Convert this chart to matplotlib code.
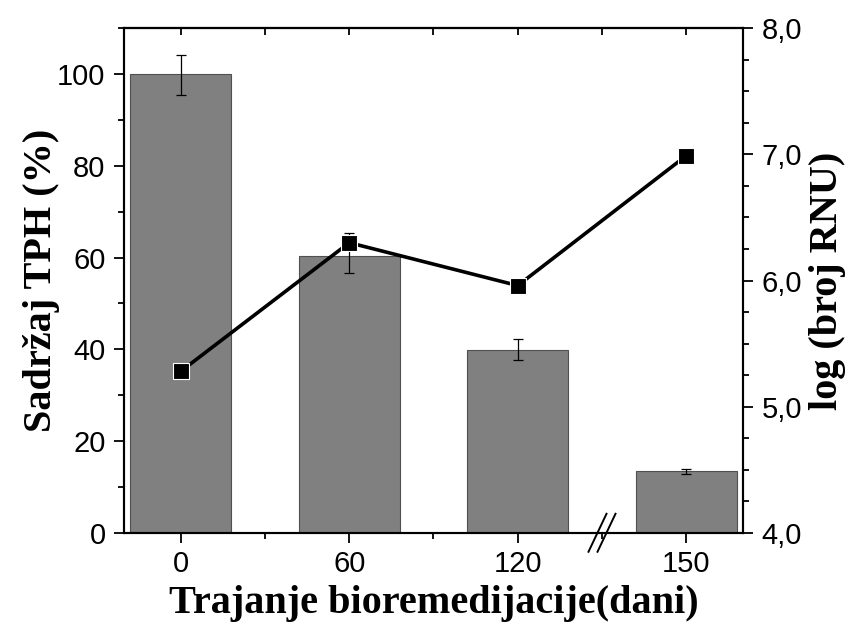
import matplotlib.pyplot as plt
from matplotlib.lines import Line2D
from matplotlib.ticker import FuncFormatter, MultipleLocator

days = ["0", "60", "120", "150"]
tph = [100.0, 60.4, 39.8, 13.4]
tph_err_low = [4.6, 3.7, 2.2, 0.6]
tph_err_high = [4.2, 5.0, 2.4, 0.6]
log_cfu = [5.28, 6.30, 5.96, 6.99]

plt.rcParams["font.family"] = ["Liberation Sans", "DejaVu Sans"]
serif_bold = {"family": ["Liberation Serif", "DejaVu Serif"], "weight": "bold"}

fig = plt.figure(figsize=(8.49, 6.29), dpi=100)
ax = fig.add_axes([0.1464, 0.1530, 0.7284, 0.8020])

pos = list(range(len(days)))
ax.bar(pos, tph, width=0.6, color="#808080", edgecolor="#505050", linewidth=0.8, zorder=2)
ax.errorbar(pos, tph, yerr=[tph_err_low, tph_err_high], fmt="none", ecolor="black",
            elinewidth=0.9, capsize=3.5, capthick=0.9, zorder=3)

ax.set_xlim(-0.335, 3.335)
ax.set_ylim(0, 110)
ax.set_xticks(pos)
ax.set_xticklabels(days)
ax.xaxis.set_minor_locator(MultipleLocator(0.5))
ax.yaxis.set_major_locator(MultipleLocator(20))
ax.yaxis.set_minor_locator(MultipleLocator(10))
ax.tick_params(axis="both", which="major", direction="out", length=7.5, width=1.3,
               labelsize=21, pad=6)
ax.tick_params(axis="x", which="major", pad=5)
ax.tick_params(axis="both", which="minor", direction="out", length=4.5, width=1.3)
ax.set_xlabel("Trajanje bioremedijacije(dani)", fontdict=serif_bold, fontsize=29)
ax.xaxis.set_label_coords(0.5, -0.103)
ax.set_ylabel("Sadržaj TPH (%)", fontdict=serif_bold, fontsize=29)
ax.yaxis.set_label_coords(-0.104, 0.5)

# inward ticks along the top edge
top = ax.secondary_xaxis("top")
top.set_xticks(pos)
top.xaxis.set_minor_locator(MultipleLocator(0.5))
top.tick_params(which="both", direction="in", length=5, width=1.3, labeltop=False)
top.spines["top"].set_linewidth(1.5)

ax2 = ax.twinx()
ax2.plot(pos, log_cfu, color="black", linewidth=2.6, marker="s", markersize=11,
         markerfacecolor="black", markeredgecolor="white", markeredgewidth=0.8, zorder=4)
ax2.set_ylim(4, 8)
ax2.yaxis.set_major_locator(MultipleLocator(1))
ax2.yaxis.set_minor_locator(MultipleLocator(0.25))
ax2.yaxis.set_major_formatter(FuncFormatter(lambda v, _: f"{v:.1f}".replace(".", ",")))
ax2.tick_params(axis="y", which="major", direction="out", length=7.5, width=1.3,
                labelsize=21, pad=6)
ax2.tick_params(axis="y", which="minor", direction="out", length=4.5, width=1.3)
ax2.set_ylabel("log (broj RNU)", fontdict=serif_bold, fontsize=29)
ax2.yaxis.set_label_coords(1.108, 0.5)

for a in (ax, ax2):
    for s in a.spines.values():
        s.set_linewidth(1.5)

# axis break marks between 120 and 150
bx, by = ax.get_xaxis_transform().transform((2.5, 0))
for off in (-4.5, 4.5):
    fig.add_artist(Line2D([bx + off - 9, bx + off + 9], [by - 19, by + 19],
                          transform=None, color="black", linewidth=1.4, clip_on=False))

fig.savefig("out.png", dpi=100)
